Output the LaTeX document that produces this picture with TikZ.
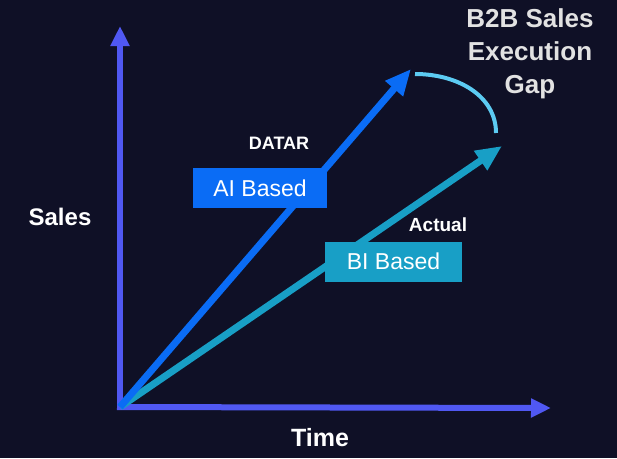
\documentclass[tikz,border=0pt]{standalone}
\usepackage{fontspec}
\setmainfont{Liberation Sans}
\usetikzlibrary{arrows.meta}
\definecolor{bgnavy}{HTML}{0F1026}
\definecolor{axisblue}{HTML}{5058F2}
\definecolor{aiblue}{HTML}{0A6CF5}
\definecolor{biteal}{HTML}{189FC6}
\definecolor{gapcyan}{HTML}{5CCBF2}
\definecolor{gaptext}{HTML}{E2E2E2}
\tikzset{
  axisline/.style={line width=6pt, axisblue, -{Triangle[length=20pt, width=18pt]}},
  trendline/.style={line width=7pt, -{Triangle[length=26pt, width=22pt]}},
  tagbox/.style={fill=#1, text=white, font=\fontsize{23}{26}\selectfont,
    minimum height=40pt, inner xsep=0pt},
  boldlabel/.style={text=white, font=\bfseries\fontsize{#1}{#1}\selectfont}
}
\begin{document}
\begin{tikzpicture}[x=1pt, y=-1pt]
  % Background
  \fill[bgnavy] (0,0) rectangle (617,458);
  \useasboundingbox (0,0) rectangle (617,458);
  % Anchor points
  \coordinate (origin) at (120,407);
  \coordinate (ytip) at (120,26);
  \coordinate (xtip) at (551,408);
  \coordinate (aitip) at (411,69);
  \coordinate (bitip) at (502,146);
  % Axes
  \draw[axisline] (origin) -- (ytip);
  \draw[axisline] ([xshift=-3pt]origin) -- (xtip);
  % Trend arrows
  \draw[trendline, biteal] (origin) -- (bitip);
  \draw[trendline, aiblue] (origin) -- (aitip);
  % Gap arc
  \coordinate (gapstart) at (415,74);
  \coordinate (gapend) at (496,133);
  \draw[line width=4pt, gapcyan] (gapstart) .. controls (458,74) and (496,96) .. (gapend);
  % Labels
  \node[tagbox=aiblue, minimum width=134pt] (aibox) at (260,188) {AI Based};
  \node[tagbox=biteal, minimum width=137pt] (bibox) at (393.5,261.5) {BI Based};
  \node[boldlabel=18] (datar) at (279,143) {DATAR};
  \node[boldlabel=19] (actual) at (438,225) {Actual};
  \node[boldlabel=24] (sales) at (60,217) {Sales};
  \node[boldlabel=25] (time) at (320,438) {Time};
  \node[text=gaptext, font=\bfseries\fontsize{26}{33}\selectfont, align=center]
    (gap) at (530,54) {B2B Sales\\Execution\\Gap};
\end{tikzpicture}
\end{document}
